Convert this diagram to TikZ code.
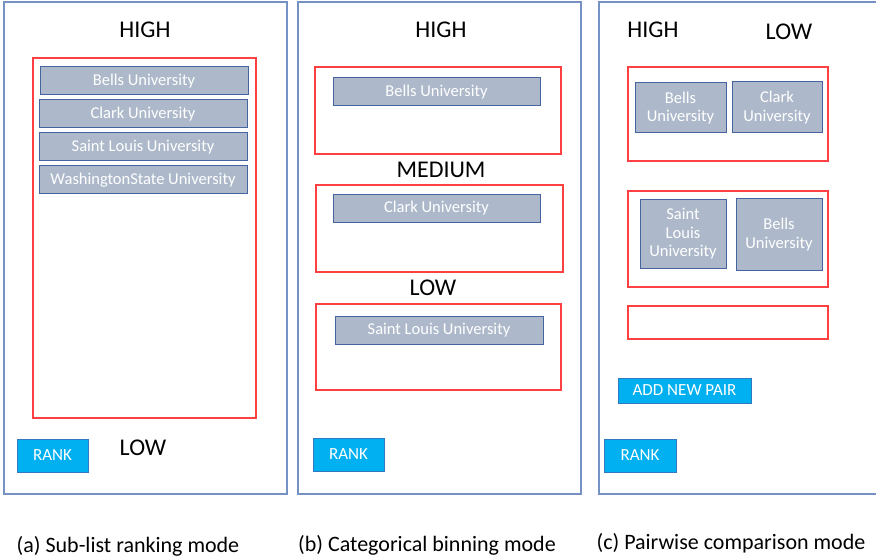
\documentclass[tikz,border=0pt]{standalone}
\usepackage{fontspec}
\setmainfont{Carlito}
\usetikzlibrary{positioning}
\definecolor{panelblue}{RGB}{118,146,196}
\definecolor{itemgray}{RGB}{173,185,202}
\definecolor{itemedge}{RGB}{68,100,160}
\definecolor{btnblue}{RGB}{0,176,240}
\definecolor{btnedge}{RGB}{50,120,190}
\definecolor{binred}{RGB}{255,64,64}
\tikzset{
	panel/.style={
		rectangle,
		draw=panelblue, line width=1.1pt,
		inner sep=0pt},
	bin/.style={
		rectangle,
		draw=binred, line width=1.1pt,
		inner sep=0pt},
	item/.style={
		rectangle,
		fill=itemgray,
		draw=itemedge, line width=1pt,
		text=white, align=center,
		font=\fontsize{16.5}{18.5}\selectfont,
		inner sep=0pt},
	btn/.style={
		rectangle,
		fill=btnblue,
		draw=btnedge, line width=1pt,
		text=white,
		font=\fontsize{17}{20}\selectfont,
		inner sep=0pt},
	level/.style={font=\fontsize{24}{28}\selectfont, inner sep=0pt},
	caption/.style={font=\fontsize{22}{26}\selectfont, inner sep=0pt},
}

\begin{document}
\begin{tikzpicture}[x=1pt, y=-1pt]
\useasboundingbox (0,0) rectangle (876,559);

% (a) sub-list ranking
\node[panel, minimum width=283, minimum height=492] (panA) at (145.5,248) {};
\node[level] (highA) at (145,30) {HIGH};
\node[bin, minimum width=223, minimum height=360] (binA) at (144.5,238) {};
\node[item, minimum width=208, minimum height=28] (bellsA) at (144,81) {Bells University};
\node[item, minimum width=208, minimum height=28] (clarkA) at (143,114) {Clark University};
\node[item, minimum width=208, minimum height=28] (stlA) at (143,147) {Saint Louis University};
\node[item, minimum width=208, minimum height=28] (washA) at (143,180) {WashingtonState University};
\node[btn, minimum width=71, minimum height=33] (rankA) at (52.5,455.5) {RANK};
\node[level] (lowA) at (143,448) {LOW};

% (b) categorical binning
\node[panel, minimum width=283, minimum height=492] (panB) at (439.5,248) {};
\node[level] (highB) at (441,30) {HIGH};
\node[bin, minimum width=246, minimum height=87] (binB1) at (438,110.5) {};
\node[item, minimum width=207, minimum height=28] (bellsB) at (436.5,92) {Bells University};
\node[level] (medB) at (441,170) {MEDIUM};
\node[bin, minimum width=247, minimum height=87] (binB2) at (439.5,228.5) {};
\node[item, minimum width=207, minimum height=27] (clarkB) at (436.5,208.5) {Clark University};
\node[level] (lowB) at (433,288) {LOW};
\node[bin, minimum width=245, minimum height=86] (binB3) at (438.5,347) {};
\node[item, minimum width=208, minimum height=28] (stlB) at (439,330) {Saint Louis University};
\node[btn, minimum width=71, minimum height=33] (rankB) at (348.5,454.5) {RANK};

% (c) pairwise comparison
\node[panel, minimum width=280, minimum height=492] (panC) at (739,248) {};
\node[level] (highC) at (653,30) {HIGH};
\node[level] (lowC) at (789,32) {LOW};
\node[bin, minimum width=200, minimum height=94] (pairC1) at (728,114) {};
\node[item, minimum width=91, minimum height=50] (bellsC1) at (680.5,108) {Bells\\University};
\node[item, minimum width=90, minimum height=51] (clarkC) at (777,107.5) {Clark\\University};
\node[bin, minimum width=200, minimum height=96] (pairC2) at (728,239) {};
\node[item, minimum width=86, minimum height=68] (stlC) at (683,234) {Saint\\Louis\\University};
\node[item, minimum width=86, minimum height=71] (bellsC2) at (779,234.5) {Bells\\University};
\node[bin, minimum width=200, minimum height=33] (pairC3) at (728,322.5) {};
\node[btn, minimum width=133, minimum height=25] (addC) at (684.5,390.5) {ADD NEW PAIR};
\node[btn, minimum width=72, minimum height=33] (rankC) at (640,455.5) {RANK};

% captions
\node[caption] (capA) at (128,546) {(a) Sub-list ranking mode};
\node[caption] (capB) at (427,545) {(b) Categorical binning mode};
\node[caption] (capC) at (731,543) {(c) Pairwise comparison mode};
\end{tikzpicture}
\end{document}
